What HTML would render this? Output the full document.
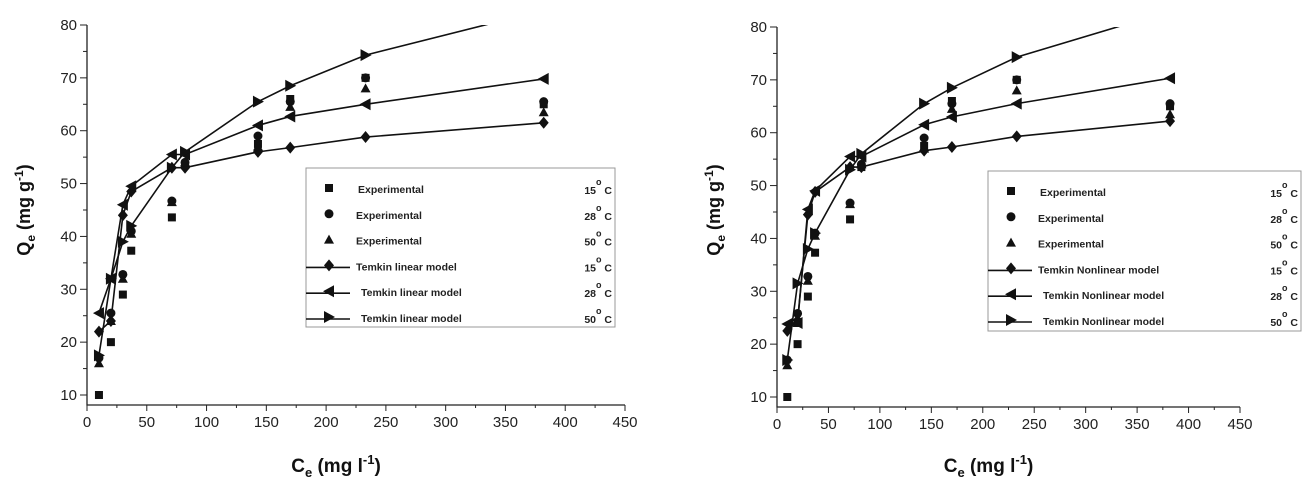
<!DOCTYPE html>
<html><head><meta charset="utf-8">
<style>
html,body{margin:0;padding:0;background:#fff;}
svg{display:block;font-family:"Liberation Sans",Arial,sans-serif;}
</style></head>
<body>
<svg id="fig" width="1316" height="486" viewBox="0 0 1316 486" xmlns="http://www.w3.org/2000/svg"></svg>
<script>
const xVals=[10,20,30,37,71,82,143,170,233,382];
const expL15=[10,20,29,37.3,43.6,53.5,57.5,66,70,65];
const expL28=[17,25.5,32.8,41,46.7,54,59,65.5,70,65.5];
const expL50=[16,24,32,40.5,46.5,54,57,64.5,68,63.5];
const temL15=[22,24,44,48.5,53,53,56,56.8,58.8,61.5];
const temL28=[25.5,32,46,49.5,55.5,55.5,61,62.7,65,69.8];
const temL50=[17.5,32,39,42,53,56,65.5,68.5,74.3,82.8];
const expR15=[10,20,29,37.3,43.6,53.5,57.5,66,70,65];
const expR28=[17,25.8,32.8,41,46.7,54,59,65.5,70,65.5];
const expR50=[16,24,32,40.5,46.5,54,57,64.5,68,63.5];
const temR15=[22.5,24.5,44.5,48.8,53.5,53.5,56.6,57.3,59.3,62.2];
const temR28=[23.8,24,45.5,49,55.5,55.5,61.5,63,65.5,70.3];
const temR50=[17,31.5,38,41,53,56,65.5,68.5,74.3,83];
const xTicks=[0,50,100,150,200,250,300,350,400,450];
const yTicks=[10,20,30,40,50,60,70,80];
const temps=["15","28","50","15","28","50"];

const NS="http://www.w3.org/2000/svg";
const svg=document.getElementById('fig');
function mk(tag,attrs,parent){const e=document.createElementNS(NS,tag);for(const k in attrs)e.setAttribute(k,attrs[k]);(parent||svg).appendChild(e);return e;}

function marker(g,type,x,y){
  let e;
  if(type==='sq'){e=mk('rect',{x:x-4,y:y-4,width:8,height:8,fill:'#111'},g);}
  else if(type==='ci'){e=mk('circle',{cx:x,cy:y,r:4.5,fill:'#111'},g);}
  else if(type==='tu'){e=mk('polygon',{points:`${x},${y-5} ${x-5},${y+4} ${x+5},${y+4}`,fill:'#111'},g);}
  else if(type==='di'){e=mk('polygon',{points:`${x},${y-6} ${x-5},${y} ${x},${y+6} ${x+5},${y}`,fill:'#111'},g);}
  else if(type==='tl'){e=mk('polygon',{points:`${x-6},${y} ${x+5},${y-6} ${x+5},${y+6}`,fill:'#111'},g);}
  else if(type==='tr'){e=mk('polygon',{points:`${x+6},${y} ${x-5},${y-6} ${x-5},${y+6}`,fill:'#111'},g);}
  
  
}

function panel(o){
  const X=v=>o.x0+v*(o.x1-o.x0)/450;
  const Y=v=>o.y10-(v-10)*(o.y10-o.y80)/70;
  const g=mk('g',{});
  
  
  const clipId=o.name+'-clip';
  const cp=mk('clipPath',{id:clipId},g);
  mk('rect',{x:o.x0,y:o.y80,width:o.x1-o.x0,height:o.yb-o.y80},cp);
  // axes
  const ax=mk('path',{d:`M${o.x0},${o.y80} V${o.yb} H${o.x1}`,stroke:'#222','stroke-width':1.3,fill:'none'},g);
  
  
  for(let v=0;v<=450;v+=25){
    const major=v%50===0;
    mk('line',{x1:X(v),x2:X(v),y1:o.yb,y2:o.yb+(major?6:3),stroke:'#222','stroke-width':1},g);
  }
  xTicks.forEach(v=>{
    const t=mk('text',{x:X(v),y:o.yb+22,'font-size':15,'text-anchor':'middle',fill:'#222'},g);
    t.textContent=v;
    
    
  });
  for(let v=10;v<=80;v+=5){
    const major=v%10===0;
    mk('line',{x1:o.x0,x2:o.x0-(major?7:4),y1:Y(v),y2:Y(v),stroke:'#222','stroke-width':1},g);
  }
  yTicks.forEach(v=>{
    const t=mk('text',{x:o.x0-10,y:Y(v)+5,'font-size':15,'text-anchor':'end',fill:'#222'},g);
    t.textContent=v;
    
    
  });
  // axis titles
  const xt=mk('text',{x:(o.x0+o.x1)/2-20,y:472,'font-size':19,'font-weight':'bold','text-anchor':'middle',fill:'#111'},g);
  xt.innerHTML='C<tspan font-size="13" dy="5">e</tspan><tspan dy="-5"> (mg l</tspan><tspan font-size="13" dy="-8">-1</tspan><tspan dy="8">)</tspan>';
  
  
  const yt=mk('text',{x:0,y:0,'font-size':18,'font-weight':'bold','text-anchor':'middle',fill:'#111',transform:`translate(${o.ylabX},210) rotate(-90)`},g);
  yt.innerHTML='Q<tspan font-size="12" dy="5">e</tspan><tspan dy="-5"> (mg g</tspan><tspan font-size="12" dy="-7">-1</tspan><tspan dy="7">)</tspan>';
  
  
  // series
  const lines=[[o.t15,'di'],[o.t28,'tl'],[o.t50,'tr']];
  const lg=mk('g',{'clip-path':`url(#${clipId})`},g);
  lines.forEach(([arr,m],i)=>{
    const s=mk('g',{},lg);
    
    
    const pl=mk('polyline',{points:xVals.map((x,j)=>X(x)+','+Y(arr[j])).join(' '),fill:'none',stroke:'#111','stroke-width':1.6},s);
    
    
    xVals.forEach((x,j)=>{if(arr[j]<=80)marker(s,m,X(x),Y(arr[j]));});
  });
  [[o.e15,'sq'],[o.e28,'ci'],[o.e50,'tu']].forEach(([arr,m],i)=>{
    const s=mk('g',{},g);
    
    
    xVals.forEach((x,j)=>marker(s,m,X(x),Y(arr[j])));
  });
  // legend
  const L=o.leg;
  const lgd=mk('g',{},g);
  
  
  mk('rect',{x:L.x,y:L.y,width:L.w,height:L.h,fill:'#fff',stroke:'#999','stroke-width':1},lgd);
  const marks=['sq','ci','tu','di','tl','tr'];
  for(let i=0;i<6;i++){
    const ry=L.y+22+i*25.8;
    const en=mk('g',{},lgd);
    
    
    const mx=L.x+23;
    if(i>=3)mk('line',{x1:L.x,x2:L.x+44,y1:ry,y2:ry,stroke:'#111','stroke-width':1.6},en);
    marker(en,marks[i],mx,ry-2);
    const tx=L.x+(i<3?(i===0?52:50):(i===3?50:55));
    const t=mk('text',{x:tx,y:ry+3,'font-size':10.5,'font-weight':'bold',fill:'#222'},en);
    t.textContent=i<3?'Experimental':o.modelName;
    const tt=mk('text',{x:L.x+L.w-3,y:ry+4,'font-size':10.5,'font-weight':'bold','text-anchor':'end',fill:'#222'},en);
    tt.innerHTML=temps[i]+'<tspan dy="-9" font-size="9">o</tspan><tspan dy="9"> C</tspan>';
  }
}
panel({name:'left-chart',x0:87,x1:625,y10:395,y80:25,yb:405,ylabX:30,
  e15:expL15,e28:expL28,e50:expL50,t15:temL15,t28:temL28,t50:temL50,
  modelName:'Temkin linear model',leg:{x:306,y:168,w:309,h:159}});
panel({name:'right-chart',x0:777,x1:1240,y10:397,y80:27,yb:407,ylabX:720,
  e15:expR15,e28:expR28,e50:expR50,t15:temR15,t28:temR28,t50:temR50,
  modelName:'Temkin Nonlinear model',leg:{x:988,y:171,w:313,h:160}});
</script>
</body></html>
